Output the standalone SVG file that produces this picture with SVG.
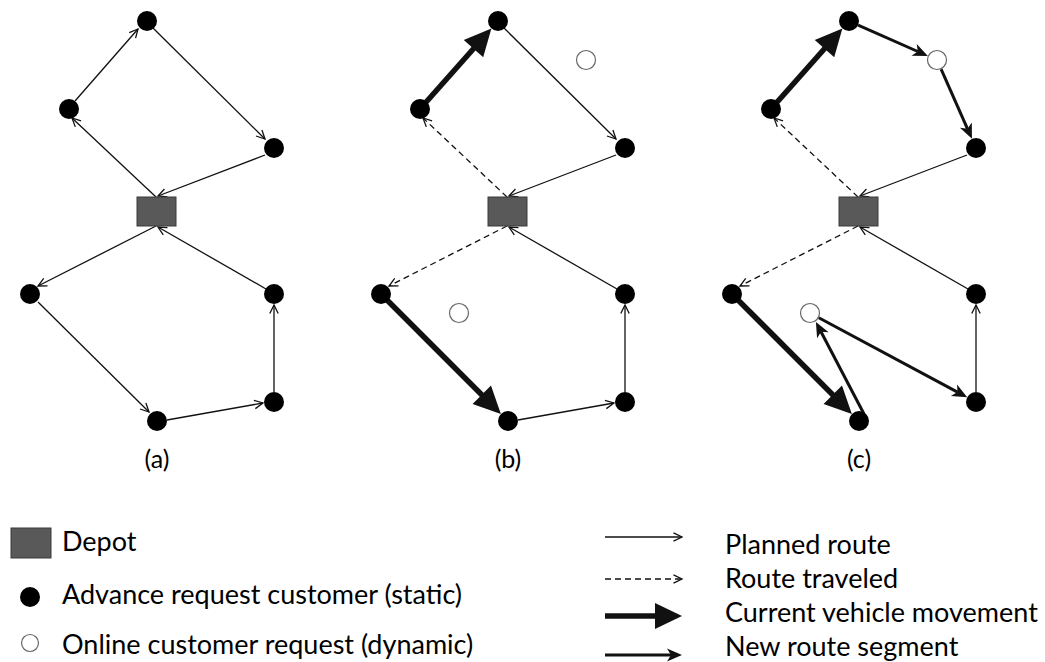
<svg xmlns="http://www.w3.org/2000/svg" width="1045" height="662" viewBox="0 0 1045 662">
<style>
.thin{fill:none;stroke:#111;stroke-width:1.3;marker-end:url(#chev)}
.dash{fill:none;stroke:#111;stroke-width:1.3;stroke-dasharray:6 4;marker-end:url(#chevd)}
.cur{fill:none;stroke:#111;stroke-width:5.5;marker-end:url(#big)}
.new{fill:none;stroke:#111;stroke-width:3;marker-end:url(#stealth)}
.cust{fill:#000}
.online{fill:#fff;stroke:#666;stroke-width:1.2}
.depot{fill:#595959;stroke:#3a3a3a;stroke-width:1}
.txt{font-family:Lato,"Liberation Sans",sans-serif;font-size:27px;fill:#000}
.cap{font-family:Lato,"Liberation Sans",sans-serif;font-size:25px;fill:#000;text-anchor:middle}
</style>
<defs>
<marker id="chev" markerUnits="userSpaceOnUse" markerWidth="12" markerHeight="12" refX="10" refY="6" orient="auto" overflow="visible"><path d="M1.5,1.8 L10,6 L1.5,10.2" fill="none" stroke="#111" stroke-width="1.3"/></marker>
<marker id="chevd" markerUnits="userSpaceOnUse" markerWidth="12" markerHeight="12" refX="10" refY="6" orient="auto" overflow="visible"><path d="M1.5,1.8 L10,6 L1.5,10.2" fill="none" stroke="#111" stroke-width="1.3"/></marker>
<marker id="big" markerUnits="userSpaceOnUse" markerWidth="28" markerHeight="28" refX="2" refY="13" orient="auto" overflow="visible"><path d="M0,0 L27,13 L0,26 Z" fill="#111"/></marker>
<marker id="stealth" markerUnits="userSpaceOnUse" markerWidth="16" markerHeight="14" refX="4" refY="6.5" orient="auto" overflow="visible"><path d="M0,0 L15,6.5 L0,13 L4,6.5 Z" fill="#111"/></marker>
</defs>
<rect width="1045" height="662" fill="#fff"/>

<g id="connectors">
  <!-- panel a -->
  <path class="thin" d="M156,197 L72,118"/>
  <path class="thin" d="M75,101 L138,29"/>
  <path class="thin" d="M153,28 L265,139"/>
  <path class="thin" d="M265,155 L158,196"/>
  <path class="thin" d="M156,226 L38,286"/>
  <path class="thin" d="M38,302 L149,412"/>
  <path class="thin" d="M167,420 L263,403"/>
  <path class="thin" d="M274,392 L274,305"/>
  <path class="thin" d="M266,289 L158,227"/>
  <!-- panel b -->
  <path class="dash" d="M507,197 L423,118"/>
  <path class="cur" d="M420,109 L474.8,47.2"/>
  <path class="thin" d="M504,28 L616,139"/>
  <path class="thin" d="M616,155 L509,196"/>
  <path class="dash" d="M507,226 L389,286"/>
  <path class="cur" d="M381,294 L483.2,396.2"/>
  <path class="thin" d="M518,420 L614,403"/>
  <path class="thin" d="M625,392 L625,305"/>
  <path class="thin" d="M617,289 L509,227"/>
  <!-- panel c -->
  <path class="dash" d="M858,197 L774,118"/>
  <path class="cur" d="M771,109 L825.8,47.2"/>
  <path class="new" d="M858.1,25.1 L917.8,51.5"/>
  <path class="new" d="M941.1,69.1 L967.5,128.8"/>
  <path class="thin" d="M967,155 L860,196"/>
  <path class="dash" d="M858,226 L740,286"/>
  <path class="cur" d="M732,294 L834.2,396.2"/>
  <path class="new" d="M864,414 L821,331.8"/>
  <path class="new" d="M818.8,317.7 L957.5,392.1"/>
  <path class="thin" d="M976,392 L976,305"/>
  <path class="thin" d="M968,289 L860,227"/>
  <!-- legend -->
  <path class="thin" d="M605,537 L682,537"/>
  <path class="dash" d="M605,579 L682,579"/>
  <path class="cur" d="M605,616 L657,616"/>
  <path class="new" d="M605,655 L671,655"/>
</g>

<g id="panel-a">
  <g id="a-depot"><rect class="depot" x="137" y="197" width="39" height="29"/></g>
  <g id="a-top"><circle class="cust" cx="147" cy="21" r="10"/></g>
  <g id="a-left-upper"><circle class="cust" cx="69" cy="109" r="10"/></g>
  <g id="a-right-upper"><circle class="cust" cx="274" cy="148" r="10"/></g>
  <g id="a-left-lower"><circle class="cust" cx="30" cy="294" r="10"/></g>
  <g id="a-right-lower"><circle class="cust" cx="274" cy="294" r="10"/></g>
  <g id="a-bottom"><circle class="cust" cx="157" cy="421" r="10"/></g>
  <g id="a-bottom-right"><circle class="cust" cx="274" cy="402" r="10"/></g>
  <text class="cap" x="157" y="468">(a)</text>
</g>

<g id="panel-b">
  <g id="b-depot"><rect class="depot" x="488" y="197" width="39" height="29"/></g>
  <g id="b-top"><circle class="cust" cx="498" cy="21" r="10"/></g>
  <g id="b-left-upper"><circle class="cust" cx="420" cy="109" r="10"/></g>
  <g id="b-right-upper"><circle class="cust" cx="625" cy="148" r="10"/></g>
  <g id="b-online-upper"><circle class="online" cx="586" cy="60" r="9.5"/></g>
  <g id="b-left-lower"><circle class="cust" cx="381" cy="294" r="10"/></g>
  <g id="b-online-lower"><circle class="online" cx="459" cy="313" r="9.5"/></g>
  <g id="b-right-lower"><circle class="cust" cx="625" cy="294" r="10"/></g>
  <g id="b-bottom"><circle class="cust" cx="508" cy="421" r="10"/></g>
  <g id="b-bottom-right"><circle class="cust" cx="625" cy="402" r="10"/></g>
  <text class="cap" x="508" y="468">(b)</text>
</g>

<g id="panel-c">
  <g id="c-depot"><rect class="depot" x="839" y="197" width="39" height="29"/></g>
  <g id="c-top"><circle class="cust" cx="849" cy="21" r="10"/></g>
  <g id="c-left-upper"><circle class="cust" cx="771" cy="109" r="10"/></g>
  <g id="c-right-upper"><circle class="cust" cx="976" cy="148" r="10"/></g>
  <g id="c-online-upper"><circle class="online" cx="937" cy="60" r="9.5"/></g>
  <g id="c-left-lower"><circle class="cust" cx="732" cy="294" r="10"/></g>
  <g id="c-online-lower"><circle class="online" cx="810" cy="313" r="9.5"/></g>
  <g id="c-right-lower"><circle class="cust" cx="976" cy="294" r="10"/></g>
  <g id="c-bottom"><circle class="cust" cx="859" cy="421" r="10"/></g>
  <g id="c-bottom-right"><circle class="cust" cx="976" cy="402" r="10"/></g>
  <text class="cap" x="859" y="468">(c)</text>
</g>

<g id="legend">
  <g id="legend-depot"><rect class="depot" x="11" y="528" width="40" height="30"/><text class="txt" x="62" y="551">Depot</text></g>
  <g id="legend-static"><circle class="cust" cx="30" cy="597" r="10"/><text class="txt" x="62" y="604">Advance request customer (static)</text></g>
  <g id="legend-dynamic"><circle class="online" cx="30" cy="643" r="8.5"/><text class="txt" x="62" y="654">Online customer request (dynamic)</text></g>
  <text class="txt" x="725" y="554">Planned route</text>
  <text class="txt" x="725" y="588">Route traveled</text>
  <text class="txt" x="725" y="622">Current vehicle movement</text>
  <text class="txt" x="725" y="656">New route segment</text>
</g>
</svg>
